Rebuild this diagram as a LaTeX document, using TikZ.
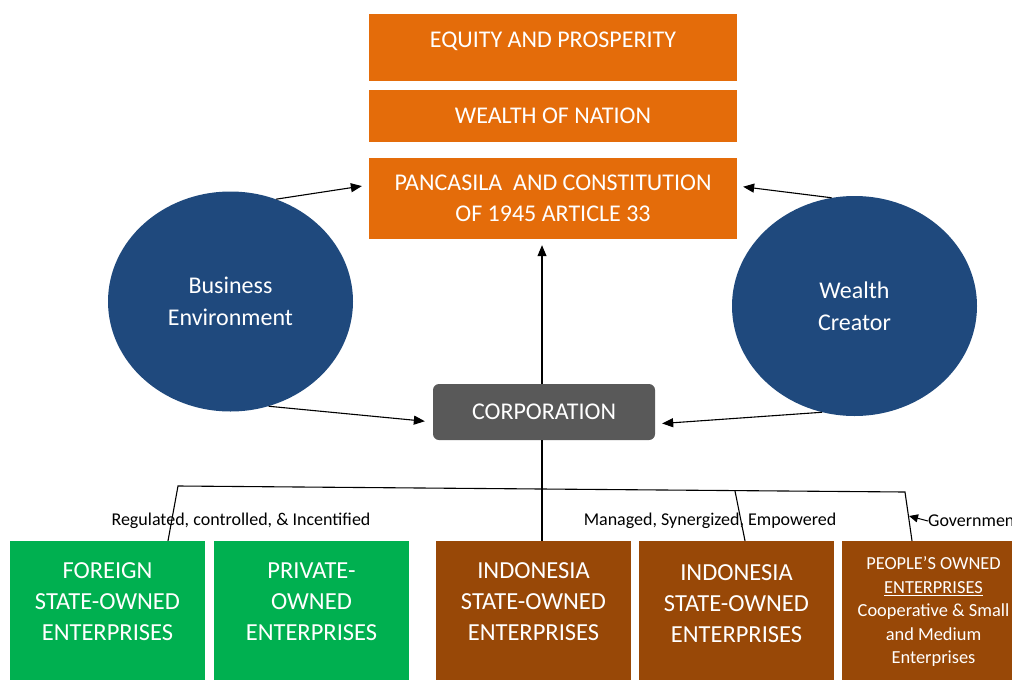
\documentclass[tikz,border=0pt]{standalone}
\usepackage{fontspec}
\setmainfont{Carlito}
\usepackage{tikz}
\usetikzlibrary{arrows.meta, shapes.geometric}
\definecolor{orangeC}{HTML}{E46C0A}
\definecolor{blueC}{HTML}{1F497D}
\definecolor{greenC}{HTML}{00B050}
\definecolor{brownC}{HTML}{984807}
\definecolor{grayC}{HTML}{595959}

\begin{document}
\begin{tikzpicture}[x=1pt, y=-1pt,
    topbox/.style={fill=orangeC, text=white, minimum width=368pt, inner sep=0pt, align=center, font=\fontsize{24}{31}\selectfont},
    ball/.style={ellipse, fill=blueC, text=white, minimum width=245pt, minimum height=220pt, inner sep=0pt, align=center, font=\fontsize{24}{32}\selectfont},
    firm/.style={minimum width=195pt, minimum height=139pt, inner sep=0pt, text=white, align=center, font=\fontsize{24.5}{31}\selectfont},
    arr/.style={line width=1.1pt, -{Triangle[length=11pt, width=9pt]}},
    wire/.style={line width=1.1pt},
    note/.style={font=\fontsize{18}{20}\selectfont}]
        \useasboundingbox (0, 0) rectangle (1012, 680);
        % goals on top
        \node [topbox, minimum height=67pt, text depth=16pt] (equity) at (553, 47.5) {EQUITY AND PROSPERITY};
        \node [topbox, minimum height=52pt] (wealth) at (553, 116) {WEALTH OF NATION};
        \node [topbox, minimum height=81pt] (pancasila) at (553, 198.5) {PANCASILA~ AND CONSTITUTION\\OF 1945 ARTICLE 33};
        % the two circles
        \node [ball] (busenv) at (230.5, 301.5) {Business\\Environment};
        \node [ball] (creator) at (854.5, 306) {Wealth\\Creator};
        \node [fill=grayC, text=white, rounded corners=6pt, minimum width=222pt, minimum height=56pt, inner sep=0pt, font=\fontsize{24}{31}\selectfont] (corp) at (544, 412) {CORPORATION};
        % enterprises
        \node [firm, fill=greenC, text depth=18pt] (foreign) at (107.5, 610.5) {FOREIGN\\STATE-OWNED\\ENTERPRISES};
        \node [firm, fill=greenC, text depth=18pt] (private) at (311.5, 610.5) {PRIVATE-\\OWNED\\ENTERPRISES};
        \node [firm, fill=brownC, text depth=18pt] (indo1) at (533.5, 610.5) {INDONESIA\\STATE-OWNED\\ENTERPRISES};
        \node [firm, fill=brownC, text depth=14pt] (indo2) at (736.5, 610.5) {INDONESIA\\STATE-OWNED\\ENTERPRISES};
        \node [firm, fill=brownC, minimum width=183pt, text depth=0pt, font=\fontsize{18.4}{23.5}\selectfont] (people) at (933.5, 610.5) {PEOPLE'S OWNED\\\underline{ENTERPRISES}\\Cooperative \& Small\\and Medium\\Enterprises};
        % arrows
        \draw [arr, shorten >=7pt] (busenv.66) -- ([yshift=13.5pt]pancasila.west);
        \draw [arr, shorten >=6pt] (creator.102) -- ([yshift=12.5pt]pancasila.east);
        \draw [arr, shorten >=8pt] (busenv.-70) -- ([yshift=-10pt]corp.west);
        \draw [arr, shorten >=7pt] (creator.-107) -- ([yshift=-12pt]corp.east);
        \draw [arr, shorten >=6pt] ([xshift=-2pt]corp.north) -- ([xshift=-2pt]corp.north |- pancasila.south);
        % lines down to the enterprises
        \coordinate (busL) at (178, 486);
        \coordinate (busM) at (735, 491);
        \coordinate (busR) at (905, 492);
        \coordinate (govtip) at (909, 516);
        \draw [wire] ([xshift=-2pt]corp.south) -- ([xshift=-2pt]corp.south |- indo1.north);
        \draw [wire] ([xshift=60.5pt]foreign.north) -- (busL) -- (busR) -- ([xshift=-21.5pt]people.north);
        \draw [wire] (busM) -- ([xshift=8.5pt]indo2.north);
        \node [note] (regul) at (241, 521) {Regulated, controlled, \& Incentified};
        \node [note] (manag) at (710, 521) {Managed, Synergized, Empowered};
        \node [note, anchor=west, inner sep=0pt] (gov) at (928, 521) {Government};
        \draw [line width=1pt, -{Triangle[length=9pt, width=8pt]}] (gov.west) -- (govtip);
\end{tikzpicture}
\end{document}
